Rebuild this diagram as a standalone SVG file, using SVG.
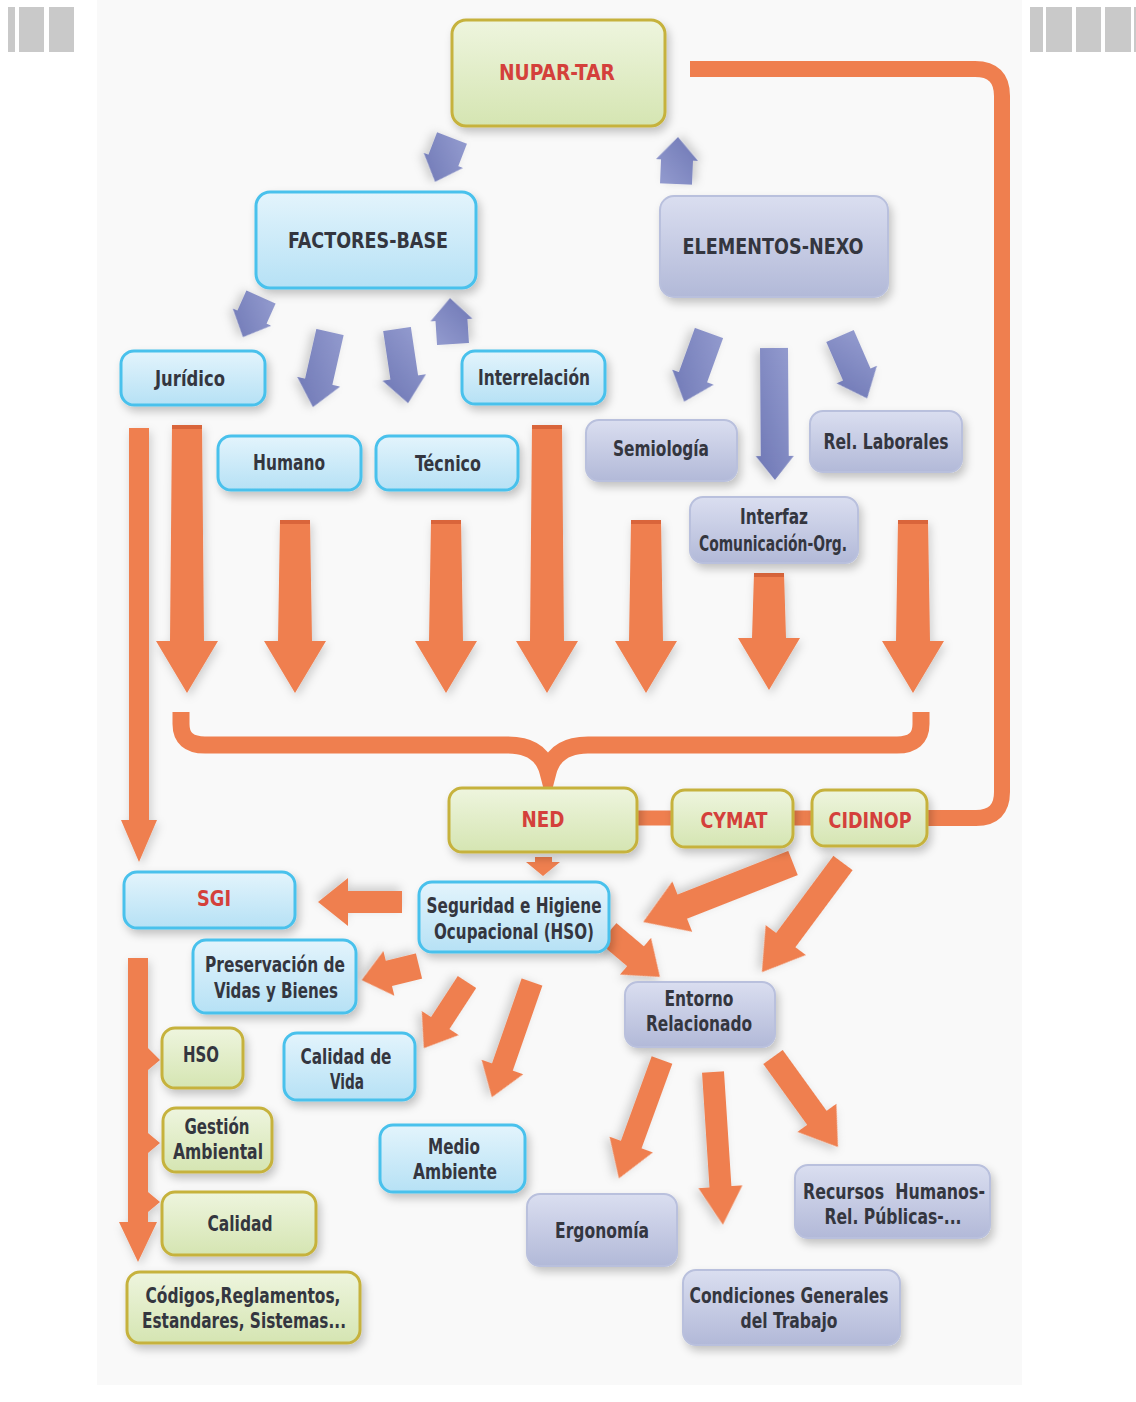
<svg xmlns="http://www.w3.org/2000/svg" width="1136" height="1402" viewBox="0 0 1136 1402">
<defs>
<linearGradient id="gGreen" x1="0" y1="0" x2="0" y2="1"><stop offset="0" stop-color="#eef5de"/><stop offset="1" stop-color="#d5e5b2"/></linearGradient>
<linearGradient id="gBlue" x1="0" y1="0" x2="0" y2="1"><stop offset="0" stop-color="#e3f4fc"/><stop offset="1" stop-color="#b6e1f5"/></linearGradient>
<linearGradient id="gLav" x1="0" y1="0" x2="0" y2="1"><stop offset="0" stop-color="#dadef0"/><stop offset="1" stop-color="#b2b9d8"/></linearGradient>
<linearGradient id="gPur" x1="0" y1="0" x2="1" y2="1"><stop offset="0" stop-color="#959dd0"/><stop offset="1" stop-color="#6d76b4"/></linearGradient>
<filter id="sh" x="-20%" y="-20%" width="150%" height="160%"><feDropShadow dx="3" dy="5" stdDeviation="4" flood-color="#000" flood-opacity="0.22"/></filter>
<filter id="ash" x="-30%" y="-30%" width="160%" height="160%"><feDropShadow dx="2" dy="4" stdDeviation="5" flood-color="#000" flood-opacity="0.18"/></filter>
<style>
.green{fill:url(#gGreen);stroke:#c6b23c;stroke-width:3;filter:url(#sh)}
.blue{fill:url(#gBlue);stroke:#48c1ec;stroke-width:3;filter:url(#sh)}
.lav{fill:url(#gLav);stroke:#b9c0dd;stroke-width:2;filter:url(#sh)}
.or{fill:#ef7f4f;filter:url(#ash)}
.pur{fill:url(#gPur);filter:url(#ash)}
.cap{fill:#d9653b}
.line{fill:none;stroke:#ef7f4f}
text{font-family:"DejaVu Sans Condensed","DejaVu Sans","Liberation Sans",sans-serif;font-weight:bold;font-size:22px;fill:#34363f;text-anchor:middle;dominant-baseline:central}
text.red{fill:#d4403b}
.bar{fill:#c9c9c9}
</style>
</defs>
<rect width="1136" height="1402" fill="#ffffff"/>
<rect x="97" y="0" width="925" height="1385" fill="#f9f9f9"/>
<g id="deco">
<rect class="bar" x="8" y="7" width="7" height="45"/>
<rect class="bar" x="19" y="7" width="25" height="45"/>
<rect class="bar" x="49" y="7" width="25" height="45"/>
<rect class="bar" x="1030" y="7" width="13" height="45"/>
<rect class="bar" x="1046" y="7" width="26" height="45"/>
<rect class="bar" x="1076" y="7" width="25" height="45"/>
<rect class="bar" x="1105" y="7" width="26" height="45"/>
<rect class="bar" x="1134" y="7" width="2" height="45"/>
</g>
<g id="connectors">
<path class="line" stroke-width="16" d="M690,69 H975 Q1002,69 1002,96 V792 Q1002,818 976,818 H920"/>
<path class="line" stroke-width="15" d="M630,818 H820"/>
<path class="line" stroke-width="17" d="M181,712 V724 Q181,745 205,745 H508 Q541,745 548,772 Q555,745 588,745 H897 Q921,745 921,724 V712"/>
<g id="purple-arrows">
<path class="pur" d="M0,-16 H24 V-21 L47,0 L24,21 V16 H0 Z" transform="translate(452,138) rotate(111.1)"/>
<path class="pur" d="M0,-16 H24 V-21 L47,0 L24,21 V16 H0 Z" transform="translate(676,184) rotate(-87.6)"/>
<path class="pur" d="M0,-16 H22 V-21 L44,0 L22,21 V16 H0 Z" transform="translate(261,297) rotate(114.2)"/>
<path class="pur" d="M0,-14 H51 V-22 L77,0 L51,22 V14 H0 Z" transform="translate(330,332) rotate(102.8)"/>
<path class="pur" d="M0,-14 H49 V-22 L75,0 L49,22 V14 H0 Z" transform="translate(397,329) rotate(81.5)"/>
<path class="pur" d="M0,-16 H24 V-21 L46,0 L24,21 V16 H0 Z" transform="translate(453,344) rotate(-93.7)"/>
<path class="pur" d="M0,-15 H47 V-22 L73,0 L47,22 V15 H0 Z" transform="translate(709,333) rotate(109.9)"/>
<path class="pur" d="M0,-14 H108 V-19 L132,0 L108,19 V14 H0 Z" transform="translate(774,348) rotate(89.6)"/>
<path class="pur" d="M0,-15 H42 V-22 L68,0 L42,22 V15 H0 Z" transform="translate(840,336) rotate(66.5)"/>
</g>
<g id="orange-down-arrows">
<polygon class="or" points="129,428 149,428 149,820 157,820 139,862 121,820 129,820"/>
<polygon class="or" points="172,425 202,425 204,641 218,641 187,693 156,641 170,641"/>
<polygon class="or" points="280,520 310,520 312,641 326,641 295,693 264,641 278,641"/>
<polygon class="or" points="431,520 461,520 463,641 477,641 446,693 415,641 429,641"/>
<polygon class="or" points="532,425 562,425 564,641 578,641 547,693 516,641 530,641"/>
<polygon class="or" points="631,520 661,520 663,641 677,641 646,693 615,641 629,641"/>
<polygon class="or" points="754,573 784,573 786,638 800,638 769,690 738,638 752,638"/>
<polygon class="or" points="898,520 928,520 930,641 944,641 913,693 882,641 896,641"/>
<rect class="cap" x="172" y="425" width="30" height="4"/>
<rect class="cap" x="280" y="520" width="30" height="4"/>
<rect class="cap" x="431" y="520" width="30" height="4"/>
<rect class="cap" x="532" y="425" width="30" height="4"/>
<rect class="cap" x="631" y="520" width="30" height="4"/>
<rect class="cap" x="754" y="573" width="30" height="4"/>
<rect class="cap" x="898" y="520" width="30" height="4"/>
</g>
<g id="orange-lower-arrows">
<polygon class="or" points="535,857 552,857 552,862 560,862 543,876 526,862 535,862"/>
<path class="or" d="M0,-13 H119 V-27 L161,0 L119,27 V13 H0 Z" transform="translate(793,863) rotate(158.5)"/>
<path class="or" d="M0,-12 H96 V-25 L136,0 L96,25 V12 H0 Z" transform="translate(843,863) rotate(126.6)"/>
<path class="or" d="M0,-13 H36 V-24 L68,0 L36,24 V13 H0 Z" transform="translate(608,933) rotate(40.2)"/>
<path class="or" d="M0,-11 H54 V-24 L84,0 L54,24 V11 H0 Z" transform="translate(402,902) rotate(180)"/>
<path class="or" d="M0,-13 H31 V-23 L59,0 L31,23 V13 H0 Z" transform="translate(419,966) rotate(166.2)"/>
<path class="or" d="M0,-11 H49 V-22 L79,0 L49,22 V11 H0 Z" transform="translate(467,982) rotate(123.1)"/>
<path class="or" d="M0,-11 H90 V-22 L122,0 L90,22 V11 H0 Z" transform="translate(532,982) rotate(109.2)"/>
<path class="or" d="M0,-11 H90 V-23 L126,0 L90,23 V11 H0 Z" transform="translate(662,1060) rotate(110)"/>
<path class="or" d="M0,-11 H115 V-22 L153,0 L115,22 V11 H0 Z" transform="translate(713,1072) rotate(86.3)"/>
<path class="or" d="M0,-12 H75 V-24 L111,0 L75,24 V12 H0 Z" transform="translate(773,1057) rotate(54.2)"/>
<polygon class="or" points="128,958 148,958 148,1048 160,1060 148,1070 148,1133 160,1143 148,1153 148,1192 160,1202 148,1212 148,1222 157,1222 138,1262 119,1222 128,1222"/>
</g>
</g>
<g id="n-nupar"><rect class="green" x="452" y="20" width="213" height="106" rx="14"/><text class="red" x="557" y="72" font-size="26" textLength="116" lengthAdjust="spacingAndGlyphs">NUPAR-TAR</text></g>
<g id="n-factores"><rect class="blue" x="256" y="192" width="220" height="96" rx="14"/><text x="368" y="240" font-size="25" textLength="160" lengthAdjust="spacingAndGlyphs">FACTORES-BASE</text></g>
<g id="n-elementos"><rect class="lav" x="660" y="196" width="228" height="101" rx="14"/><text x="773" y="246" font-size="25" textLength="181" lengthAdjust="spacingAndGlyphs">ELEMENTOS-NEXO</text></g>
<g id="n-juridico"><rect class="blue" x="121" y="351" width="144" height="54" rx="13"/><text x="190" y="378" textLength="70" lengthAdjust="spacingAndGlyphs">Jurídico</text></g>
<g id="n-interrelacion"><rect class="blue" x="462" y="351" width="143" height="53" rx="13"/><text x="534" y="377" textLength="112" lengthAdjust="spacingAndGlyphs">Interrelación</text></g>
<g id="n-humano"><rect class="blue" x="218" y="436" width="143" height="54" rx="13"/><text x="289" y="462" textLength="72" lengthAdjust="spacingAndGlyphs">Humano</text></g>
<g id="n-tecnico"><rect class="blue" x="376" y="436" width="142" height="54" rx="13"/><text x="448" y="463" textLength="66" lengthAdjust="spacingAndGlyphs">Técnico</text></g>
<g id="n-semiologia"><rect class="lav" x="586" y="420" width="151" height="61" rx="13"/><text x="661" y="448" textLength="96" lengthAdjust="spacingAndGlyphs">Semiología</text></g>
<g id="n-rellaborales"><rect class="lav" x="810" y="411" width="152" height="61" rx="13"/><text x="886" y="441" textLength="125" lengthAdjust="spacingAndGlyphs">Rel. Laborales</text></g>
<g id="n-interfaz"><rect class="lav" x="690" y="497" width="168" height="66" rx="13"/><text x="774" y="516" textLength="68" lengthAdjust="spacingAndGlyphs">Interfaz</text><text x="773" y="543" textLength="148" lengthAdjust="spacingAndGlyphs">Comunicación-Org.</text></g>
<g id="n-ned"><rect class="green" x="449" y="788" width="188" height="64" rx="13"/><text class="red" x="543" y="819" font-size="24" textLength="43" lengthAdjust="spacingAndGlyphs">NED</text></g>
<g id="n-cymat"><rect class="green" x="672" y="790" width="121" height="57" rx="13"/><text class="red" x="734" y="820" font-size="24" textLength="67" lengthAdjust="spacingAndGlyphs">CYMAT</text></g>
<g id="n-cidinop"><rect class="green" x="812" y="790" width="115" height="56" rx="13"/><text class="red" x="870" y="820" font-size="24" textLength="83" lengthAdjust="spacingAndGlyphs">CIDINOP</text></g>
<g id="n-sgi"><rect class="blue" x="124" y="872" width="171" height="56" rx="13"/><text class="red" x="214" y="898" font-size="24" textLength="34" lengthAdjust="spacingAndGlyphs">SGI</text></g>
<g id="n-hso-main"><rect class="blue" x="419" y="882" width="190" height="70" rx="13"/><text x="514" y="905" textLength="175" lengthAdjust="spacingAndGlyphs">Seguridad e Higiene</text><text x="514" y="931" textLength="160" lengthAdjust="spacingAndGlyphs">Ocupacional (HSO)</text></g>
<g id="n-preservacion"><rect class="blue" x="193" y="940" width="163" height="73" rx="13"/><text x="275" y="964" textLength="140" lengthAdjust="spacingAndGlyphs">Preservación de</text><text x="276" y="990" textLength="124" lengthAdjust="spacingAndGlyphs">Vidas y Bienes</text></g>
<g id="n-entorno"><rect class="lav" x="625" y="982" width="150" height="65" rx="13"/><text x="699" y="998" textLength="69" lengthAdjust="spacingAndGlyphs">Entorno</text><text x="699" y="1023" textLength="106" lengthAdjust="spacingAndGlyphs">Relacionado</text></g>
<g id="n-calidadvida"><rect class="blue" x="284" y="1033" width="131" height="67" rx="13"/><text x="346" y="1056" textLength="91" lengthAdjust="spacingAndGlyphs">Calidad de</text><text x="347" y="1081" textLength="34" lengthAdjust="spacingAndGlyphs">Vida</text></g>
<g id="n-medioambiente"><rect class="blue" x="380" y="1125" width="145" height="67" rx="13"/><text x="454" y="1146" textLength="52" lengthAdjust="spacingAndGlyphs">Medio</text><text x="455" y="1171" textLength="84" lengthAdjust="spacingAndGlyphs">Ambiente</text></g>
<g id="n-hso"><rect class="green" x="162" y="1028" width="81" height="60" rx="13"/><text x="201" y="1054" textLength="36" lengthAdjust="spacingAndGlyphs">HSO</text></g>
<g id="n-gestion"><rect class="green" x="163" y="1108" width="109" height="64" rx="13"/><text x="217" y="1126" textLength="65" lengthAdjust="spacingAndGlyphs">Gestión</text><text x="218" y="1151" textLength="90" lengthAdjust="spacingAndGlyphs">Ambiental</text></g>
<g id="n-calidad"><rect class="green" x="162" y="1192" width="154" height="63" rx="13"/><text x="240" y="1223" textLength="65" lengthAdjust="spacingAndGlyphs">Calidad</text></g>
<g id="n-codigos"><rect class="green" x="127" y="1272" width="233" height="71" rx="13"/><text x="243" y="1295" textLength="195" lengthAdjust="spacingAndGlyphs">Códigos,Reglamentos,</text><text x="244" y="1320" textLength="204" lengthAdjust="spacingAndGlyphs">Estandares, Sistemas...</text></g>
<g id="n-ergonomia"><rect class="lav" x="527" y="1194" width="150" height="72" rx="13"/><text x="602" y="1230" textLength="94" lengthAdjust="spacingAndGlyphs">Ergonomía</text></g>
<g id="n-recursos"><rect class="lav" x="795" y="1165" width="195" height="73" rx="13"/><text x="894" y="1191" textLength="182" lengthAdjust="spacingAndGlyphs" xml:space="preserve">Recursos  Humanos-</text><text x="893" y="1216" textLength="137" lengthAdjust="spacingAndGlyphs">Rel. Públicas-...</text></g>
<g id="n-condiciones"><rect class="lav" x="683" y="1270" width="217" height="75" rx="13"/><text x="789" y="1295" textLength="199" lengthAdjust="spacingAndGlyphs">Condiciones Generales</text><text x="789" y="1320" textLength="97" lengthAdjust="spacingAndGlyphs">del Trabajo</text></g>
</svg>
